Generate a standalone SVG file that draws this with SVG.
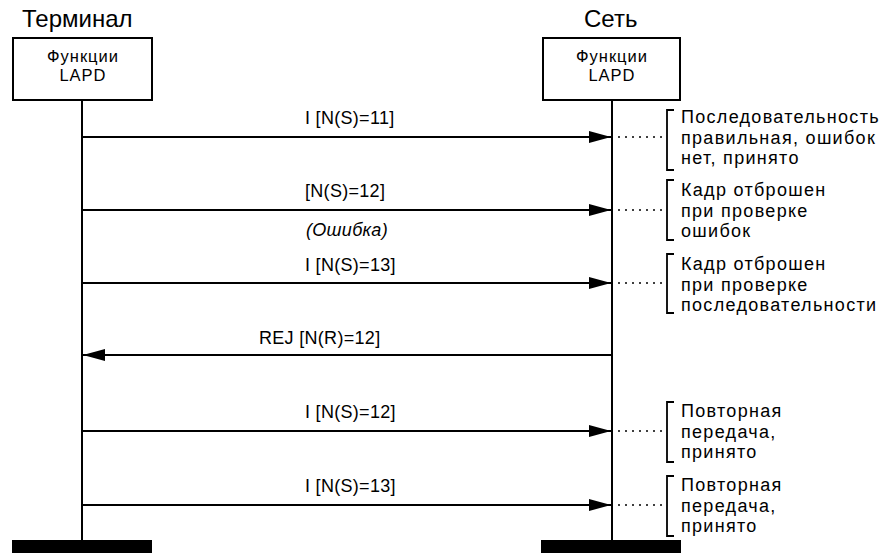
<svg xmlns="http://www.w3.org/2000/svg" width="888" height="553" viewBox="0 0 888 553">
  <style>
    text { font-family: "Liberation Sans", Arial, sans-serif; fill: #000; }
    .title { font-size: 24px; }
    .boxtxt { font-size: 16.5px; letter-spacing: 1px; text-anchor: middle; }
    .lbl { font-size: 18px; letter-spacing: 0.3px; }
    .note { font-size: 18px; letter-spacing: 1.3px; }
    .box { fill: #fff; stroke: #000; stroke-width: 2; }
    .life { stroke: #000; stroke-width: 2; fill: none; }
    .msg { stroke: #000; stroke-width: 2; fill: none; }
    .dots { stroke: #000; stroke-width: 1.6; stroke-dasharray: 2 5; fill: none; }
    .brace { stroke: #000; stroke-width: 1.8; fill: none; }
    .bar { fill: #000; }
  </style>
  <defs>
    <marker id="head" viewBox="0 0 22 12" refX="22" refY="6" markerWidth="22" markerHeight="12" markerUnits="userSpaceOnUse" orient="auto">
      <path d="M0,0 L22,6 L0,12 Z" fill="#000"/>
    </marker>
  </defs>

  <rect width="888" height="553" fill="#fff"/>

  <!-- Terminal side -->
  <g id="terminal">
    <text class="title" x="22" y="27">Терминал</text>
    <rect class="box" x="13" y="38" width="139" height="62"/>
    <text class="boxtxt" x="83" y="62">Функции</text>
    <text class="boxtxt" x="83" y="81">LAPD</text>
    <line class="life" x1="82" y1="100" x2="82" y2="541"/>
    <rect class="bar" x="12" y="540" width="140" height="13"/>
  </g>

  <!-- Network side -->
  <g id="network">
    <text class="title" x="584" y="27">Сеть</text>
    <rect class="box" x="543" y="38" width="137" height="62"/>
    <text class="boxtxt" x="612" y="62">Функции</text>
    <text class="boxtxt" x="612" y="81">LAPD</text>
    <line class="life" x1="612" y1="100" x2="612" y2="541"/>
    <rect class="bar" x="541" y="540" width="140" height="13"/>
  </g>

  <!-- Frame exchange -->
  <g id="connectors">
    <line class="msg" x1="82" y1="137" x2="611" y2="137" marker-end="url(#head)"/>
    <line class="msg" x1="82" y1="210" x2="611" y2="210" marker-end="url(#head)"/>
    <line class="msg" x1="82" y1="283" x2="611" y2="283" marker-end="url(#head)"/>
    <line class="msg" x1="612" y1="355" x2="83" y2="355" marker-end="url(#head)"/>
    <line class="msg" x1="82" y1="431" x2="611" y2="431" marker-end="url(#head)"/>
    <line class="msg" x1="82" y1="505" x2="611" y2="505" marker-end="url(#head)"/>

    <line class="dots" x1="618" y1="137" x2="662" y2="137"/>
    <line class="dots" x1="618" y1="210" x2="662" y2="210"/>
    <line class="dots" x1="618" y1="283" x2="662" y2="283"/>
    <line class="dots" x1="618" y1="431" x2="662" y2="431"/>
    <line class="dots" x1="618" y1="505" x2="662" y2="505"/>
  </g>

  <!-- Frame labels -->
  <g id="labels">
    <text class="lbl" x="305" y="124">I [N(S)=11]</text>
    <text class="lbl" x="305" y="197">[N(S)=12]</text>
    <text class="lbl" x="306" y="236" font-style="italic">(Ошибка)</text>
    <text class="lbl" x="305" y="271">I [N(S)=13]</text>
    <text class="lbl" x="259" y="344">REJ [N(R)=12]</text>
    <text class="lbl" x="305" y="418">I [N(S)=12]</text>
    <text class="lbl" x="305" y="492">I [N(S)=13]</text>
  </g>

  <!-- Receiver comments -->
  <g id="note1">
    <path class="brace" d="M674,110 H667 V170 H674"/>
    <text class="note" x="681" y="123">Последовательность</text>
    <text class="note" x="681" y="143.5">правильная, ошибок</text>
    <text class="note" x="681" y="164">нет, принято</text>
  </g>
  <g id="note2">
    <path class="brace" d="M674,180 H667 V240 H674"/>
    <text class="note" x="681" y="196">Кадр отброшен</text>
    <text class="note" x="681" y="216.5">при проверке</text>
    <text class="note" x="681" y="237">ошибок</text>
  </g>
  <g id="note3">
    <path class="brace" d="M674,254 H667 V313 H674"/>
    <text class="note" x="681" y="270">Кадр отброшен</text>
    <text class="note" x="681" y="290.5">при проверке</text>
    <text class="note" x="681" y="311">последовательности</text>
  </g>
  <g id="note4">
    <path class="brace" d="M674,402 H667 V462 H674"/>
    <text class="note" x="681" y="417">Повторная</text>
    <text class="note" x="681" y="437.5">передача,</text>
    <text class="note" x="681" y="458">принято</text>
  </g>
  <g id="note5">
    <path class="brace" d="M674,476 H667 V536 H674"/>
    <text class="note" x="681" y="491">Повторная</text>
    <text class="note" x="681" y="511.5">передача,</text>
    <text class="note" x="681" y="532">принято</text>
  </g>
</svg>
